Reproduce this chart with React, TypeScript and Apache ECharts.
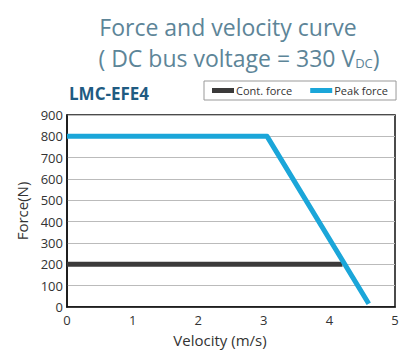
import React, { useEffect, useRef } from "react";
import * as echarts from "echarts";

const peakForce: [number, number][] = [[0, 800], [3.05, 800], [4.6, 15]];
const contForce: [number, number][] = [[0, 200], [4.2, 200]];
const xTicks = [0, 1, 2, 3, 4, 5];
const yTicks = [0, 100, 200, 300, 400, 500, 600, 700, 800, 900];

const FONT = "'Open Sans', 'DejaVu Sans', sans-serif";

export default function App() {
  const ref = useRef<HTMLDivElement>(null);
  useEffect(() => {
    if (!ref.current) return;
    const chart = echarts.init(ref.current, undefined, { renderer: "svg" });
    chart.setOption({
      animation: false,
      backgroundColor: "#ffffff",
      title: [
        {
          text: "Force and velocity curve",
          left: 223,
          top: 10,
          textAlign: "center",
          textStyle: { color: "#5d8598", fontSize: 23, fontWeight: "normal", fontFamily: FONT },
        },
        {
          text: "( DC bus voltage = 330 V{sub|DC})",
          left: 234,
          top: 41,
          textAlign: "center",
          textStyle: {
            color: "#5d8598",
            fontSize: 23,
            fontWeight: "normal",
            fontFamily: FONT,
            rich: {
              sub: { fontSize: 13, color: "#5d8598", fontFamily: FONT, verticalAlign: "bottom", padding: [10, 0, 0, 0] },
            },
          },
        },
        {
          text: "LMC-EFE4",
          left: 64,
          top: 80,
          textStyle: { color: "#1f5b82", fontSize: 17, fontWeight: "bold", fontFamily: FONT },
        },
      ],
      legend: {
        left: 204,
        top: 81,
        width: 190,
        padding: [4, 8, 4, 8],
        itemGap: 18,
        itemWidth: 22,
        itemHeight: 5,
        borderColor: "#999999",
        borderWidth: 1,
        textStyle: { fontSize: 11, color: "#333", fontFamily: FONT, padding: [0, 0, 0, -3] },
        data: [
          { name: "Cont. force", icon: "rect" },
          { name: "Peak force", icon: "rect" },
        ],
      },
      grid: {
        left: 67,
        right: 19,
        top: 115,
        bottom: 50,
        show: true,
        borderColor: "#111",
        borderWidth: 1.5,
      },
      xAxis: {
        type: "value",
        min: 0,
        max: 5,
        interval: 1,
        name: "Velocity (m/s)",
        nameLocation: "middle",
        nameGap: 25,
        nameTextStyle: { fontSize: 15, color: "#333", fontFamily: FONT, padding: [0, 22, 0, 0] },
        axisLine: { show: true, lineStyle: { color: "#111", width: 1.5 } },
        axisTick: { show: false },
        splitLine: { show: false },
        axisLabel: { fontSize: 13, color: "#333", fontFamily: FONT, margin: 6, customValues: xTicks } as any,
      },
      yAxis: {
        type: "value",
        min: 0,
        max: 900,
        interval: 100,
        name: "Force(N)",
        nameLocation: "middle",
        nameGap: 37,
        nameTextStyle: { fontSize: 15, color: "#333", fontFamily: FONT },
        axisLine: { show: true, lineStyle: { color: "#111", width: 1.5 } },
        axisTick: { show: false },
        splitLine: { show: true, lineStyle: { color: "#bbbbbb", width: 1 } },
        axisLabel: { fontSize: 13, color: "#333", fontFamily: FONT, margin: 4, customValues: yTicks } as any,
      },
      series: [
        {
          name: "Cont. force",
          type: "line",
          data: contForce,
          symbol: "none",
          lineStyle: { color: "#3b3a3a", width: 5 },
          itemStyle: { color: "#3b3a3a" },
        },
        {
          name: "Peak force",
          type: "line",
          data: peakForce,
          symbol: "none",
          lineStyle: { color: "#1ba6d9", width: 5, join: "round" },
          itemStyle: { color: "#1ba6d9" },
        },
      ],
    });
    return () => chart.dispose();
  }, []);
  return <div ref={ref} style={{ width: 414, height: 357, position: "absolute", left: 0, top: 0 }} />;
}
